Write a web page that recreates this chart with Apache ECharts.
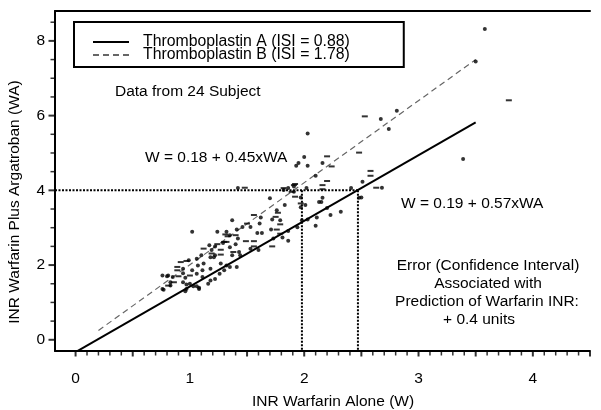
<!DOCTYPE html>
<html><head><meta charset="utf-8">
<script src="https://cdn.jsdelivr.net/npm/echarts@6/dist/echarts.min.js"></script>
<style>html,body{margin:0;padding:0;background:#fff}#c{width:601px;height:410px}</style>
</head><body><div id="c"></div>
<script>
const FONT = 'Liberation Sans, Arial, sans-serif';
const nameA = 'Thromboplastin A (ISI = 0.88)';
const nameB = 'Thromboplastin B (ISI = 1.78)';
const xLabels = [0, 1, 2, 3, 4];
const yLabels = [0, 2, 4, 6, 8];
const xMajorTicks = [0, 0.5, 1, 1.5, 2, 2.5, 3, 3.5, 4, 4.5];
const xMinorTicks = [0.1,0.2,0.3,0.4,0.6,0.7,0.8,0.9,1.1,1.2,1.3,1.4,1.6,1.7,1.8,1.9,2.1,2.2,2.3,2.4,2.6,2.7,2.8,2.9,
  3.1,3.2,3.3,3.4,3.6,3.7,3.8,3.9,4.1,4.2,4.3,4.4];
const yMinorTicks = [0.5, 1, 1.5, 2.5, 3, 3.5, 4.5, 5, 5.5, 6.5, 7, 7.5, 8.5];
// regression lines (endpoints)
const lineA = [[0, -0.33], [3.5, 5.82]];
const lineB = [[0.2, 0.25], [3.5, 7.5]];
// dotted guide lines
const guideH = [[-0.18, 4], [2.47, 4]];
const guideV1 = [[1.98, 4], [1.98, -0.3]];
const guideV2 = [[2.47, 4], [2.47, -0.3]];
// scatter points (dots)
const pointsA = [[3.58,8.32],[3.50,7.45],[2.67,5.91],[2.81,6.13],[2.74,5.64],[3.39,4.84],
[2.03,5.52],[2.00,4.89],[2.16,4.73],[1.93,4.66],[2.03,4.66],[2.10,4.39],[2.51,4.23],[2.68,4.07],
[1.86,4.06],[1.82,4.01],[1.91,3.96],[1.97,3.81],[2.02,4.06],[2.16,3.80],[2.41,4.06],[2.48,3.80],
[2.15,3.69],[2.20,3.53],[2.01,3.61],[2.03,3.22],[2.11,3.27],[2.10,3.05],[2.23,3.34],[2.32,3.43],[1.98,3.20],[2.50,3.81],
[1.42,4.06],[1.91,4.10],[1.70,3.79],[1.83,3.61],[1.97,3.55],[2.13,3.69],[1.37,3.20],[1.62,3.27],[1.72,3.22],[1.79,3.20],
[1.61,3.11],[1.53,3.02],[1.46,3.02],[1.41,2.95],[1.71,2.95],[1.59,2.86],[1.63,2.86],[1.86,2.91],[1.94,3.01],[1.32,2.89],
[1.35,2.80],[1.24,2.89],[1.42,2.71],[1.73,2.71],[1.81,2.74],[1.86,2.65],[1.29,2.59],[1.22,2.50],[1.60,2.40],[1.53,2.44],
[1.19,2.40],[1.43,2.35],[1.44,2.26],[1.37,2.26],[1.18,2.21],[1.22,2.26],[1.76,3.47],
[1.02,2.89],[1.17,2.53],[1.35,2.48],[1.40,2.56],[1.10,2.26],[1.21,2.21],[1.06,2.17],[0.99,2.13],[1.07,1.99],[1.12,2.04],
[1.27,2.04],[1.32,1.99],[1.18,1.90],[1.11,1.86],[0.94,1.90],[1.02,1.86],[0.94,1.78],[1.06,1.77],[1.11,1.68],[0.76,1.72],
[0.80,1.70],[0.85,1.68],[0.96,1.66],[0.83,1.54],[0.94,1.54],[0.97,1.48],[1.00,1.50],[1.03,1.43],[0.97,1.36],[0.96,1.30],
[1.08,1.36],[1.06,1.43],[0.76,1.36],[1.16,1.50],[1.22,1.63],[1.26,1.77],[1.30,1.86],[1.35,1.95],[1.41,1.95],[0.77,1.34],
[0.83,1.45],[1.08,1.39],[1.18,1.59],[0.81,1.72],[1.95,4.73]];
// scatter points (dashes)
const pointsB = [[3.79,6.41],[2.53,5.98],[2.20,4.91],[2.24,4.64],[2.48,5.01],[2.58,4.52],[2.58,4.39],[2.20,4.25],[2.63,4.07],
[1.91,4.14],[1.92,3.83],[2.16,4.14],[2.16,4.03],[1.48,4.07],[1.82,4.06],[1.92,4.17],[1.89,3.96],[1.97,3.65],[1.56,3.34],
[1.77,3.40],[1.75,3.29],[1.79,3.09],[1.50,3.11],[1.76,2.95],[1.33,2.77],[1.49,2.64],[1.56,2.64],[1.79,2.84],[1.32,2.62],
[1.72,2.50],[1.56,2.50],[1.27,2.41],[1.38,2.35],[1.24,2.56],[1.30,2.62],[1.12,2.44],[1.19,2.31],[1.27,2.28],[0.92,2.08],
[0.97,2.11],[0.89,1.95],[0.89,1.86],[1.00,1.72],[0.90,1.70],[0.86,1.54],[0.81,1.45],[1.40,2.80],[1.31,2.82]];

const X_MIN = -0.18, X_MAX = 4.5, Y_MIN = -0.3, Y_MAX = 8.8;
const black = '#000';
const chart = echarts.init(document.getElementById('c'));
const dotted = {color: black, width: 2, type: [2, 1.5]};
// tick marks: placed on the axis lines through the chart's own scales
function tickSeries(name, data, size, offset) {
  return {type: 'scatter', name: name, data: data, symbol: 'rect', symbolSize: size, symbolOffset: offset,
    clip: false, itemStyle: {color: black}, z: 5};
}
chart.setOption({
  animation: false,
  textStyle: {fontFamily: FONT},
  grid: {left: 55, right: 11, top: 11, bottom: 59},
  legend: {
    data: [nameA, nameB], orient: 'vertical', left: 74, top: 22,
    padding: [12, 54, 4, 18], itemGap: -3, itemWidth: 36, itemHeight: 11,
    borderColor: black, borderWidth: 2, backgroundColor: '#fff',
    itemStyle: {opacity: 0, color: 'rgba(0,0,0,0)', borderWidth: 0},
    textStyle: {fontFamily: FONT, fontSize: 15.8, color: black, lineHeight: 11, padding: [2, 0, 0, 9]},
    selectedMode: false
  },
  xAxis: [
    {type: 'value', min: X_MIN, max: X_MAX, position: 'bottom', splitLine: {show: false},
      axisLine: {show: true, onZero: false, lineStyle: {color: black, width: 2}},
      axisTick: {show: false},
      axisLabel: {show: true, customValues: xLabels, margin: 20, fontSize: 15.5, color: black, fontFamily: FONT}},
    {type: 'value', min: X_MIN, max: X_MAX, position: 'top', splitLine: {show: false},
      axisLine: {show: true, onZero: false, lineStyle: {color: black, width: 2}},
      axisTick: {show: false}, axisLabel: {show: false}}
  ],
  yAxis: [
    {type: 'value', min: Y_MIN, max: Y_MAX, position: 'left', splitLine: {show: false},
      axisLine: {show: true, onZero: false, lineStyle: {color: black, width: 2}},
      axisTick: {show: false},
      axisLabel: {show: true, customValues: yLabels, margin: 10, fontSize: 15.5, color: black, fontFamily: FONT}}
  ],
  series: [
    {type: 'line', name: nameA, data: lineA, symbol: 'none', lineStyle: {color: black, width: 2}, itemStyle: {color: black}, z: 3},
    {type: 'line', name: nameB, data: lineB, symbol: 'none', lineStyle: {color: '#666', width: 1.2, type: [6, 4]}, itemStyle: {color: '#666'}, z: 3},
    {type: 'line', name: 'guideH', data: guideH, symbol: 'none', lineStyle: dotted, z: 2},
    {type: 'line', name: 'guideV1', data: guideV1, symbol: 'none', lineStyle: dotted, z: 2},
    {type: 'line', name: 'guideV2', data: guideV2, symbol: 'none', lineStyle: dotted, z: 2},
    {type: 'scatter', name: 'A points', data: pointsA, symbol: 'circle', symbolSize: 4, itemStyle: {color: black}, z: 4},
    {type: 'scatter', name: 'B points', data: pointsB, symbol: 'rect', symbolSize: [6, 2], itemStyle: {color: black}, z: 4},
    tickSeries('xMajorTicks', xMajorTicks.map(v => [v, Y_MIN]), [2, 5], [0, 3]),
    tickSeries('xMinorTicks', xMinorTicks.map(v => [v, Y_MIN]), [1.5, 4], [0, 2.5]),
    tickSeries('yMinorTicks', yMinorTicks.map(v => [X_MIN, v]), [4, 1.5], [-2.5, 0]),
    tickSeries('yMajorTicks', yLabels.map(v => [X_MIN, v]), [6, 2], [-3.5, 0])
  ],
  graphic: [
    {type: 'text', x: 115, y: 92, style: {text: 'Data from 24 Subject', font: '15.5px ' + FONT, fill: black, textVerticalAlign: 'middle'}},
    {type: 'text', x: 145, y: 158, style: {text: 'W = 0.18 + 0.45xWA', font: '15.5px ' + FONT, fill: black, textVerticalAlign: 'middle'}},
    {type: 'text', x: 401, y: 204, style: {text: 'W = 0.19 + 0.57xWA', font: '15.5px ' + FONT, fill: black, textVerticalAlign: 'middle'}},
    {type: 'text', x: 488, y: 266, style: {text: 'Error (Confidence Interval)', font: '15.5px ' + FONT, fill: black, textAlign: 'center', textVerticalAlign: 'middle'}},
    {type: 'text', x: 488, y: 284, style: {text: 'Associated with', font: '15.5px ' + FONT, fill: black, textAlign: 'center', textVerticalAlign: 'middle'}},
    {type: 'text', x: 487, y: 302, style: {text: 'Prediction of Warfarin INR:', font: '15.5px ' + FONT, fill: black, textAlign: 'center', textVerticalAlign: 'middle'}},
    {type: 'text', x: 479, y: 320, style: {text: '+ 0.4 units', font: '15.5px ' + FONT, fill: black, textAlign: 'center', textVerticalAlign: 'middle'}},
    {type: 'text', x: 333, y: 402, style: {text: 'INR Warfarin Alone (W)', font: '15.5px ' + FONT, fill: black, textAlign: 'center', textVerticalAlign: 'middle'}},
    {type: 'text', x: 15, y: 202, rotation: Math.PI / 2, style: {text: 'INR Warfarin Plus Argatroban (WA)', font: '15.5px ' + FONT, fill: black, textAlign: 'center', textVerticalAlign: 'middle'}}
  ]
});
</script></body></html>
